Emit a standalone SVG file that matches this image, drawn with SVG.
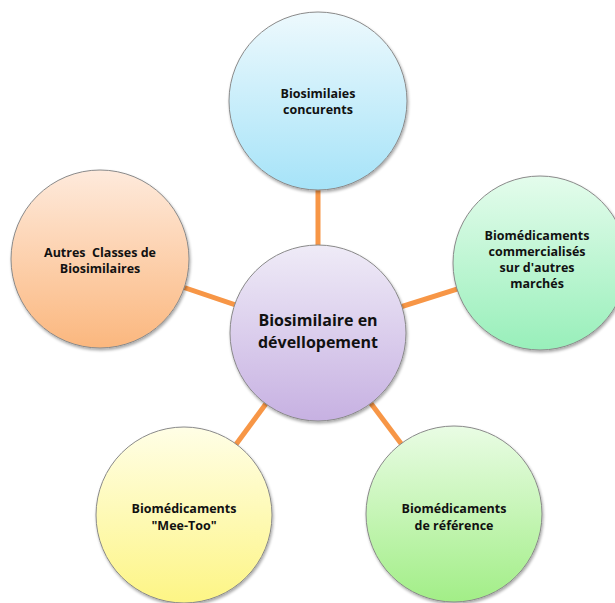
<svg xmlns="http://www.w3.org/2000/svg" width="615" height="603" viewBox="0 0 615 603">
<style>
.node{stroke:#8a8a8a;stroke-width:1;filter:url(#sh)}
.t{font-family:"Open Sans","Liberation Sans",sans-serif;font-weight:bold;font-size:12.5px;fill:#111;text-anchor:middle}
.tc{font-size:16px}
.conn line{stroke:#F79646;stroke-width:5}
</style>
<defs>
<filter id="sh" x="-20%" y="-20%" width="140%" height="140%">
<feGaussianBlur in="SourceAlpha" stdDeviation="1.5"/>
<feOffset dx="1" dy="2" result="b"/>
<feComponentTransfer><feFuncA type="linear" slope="0.35"/></feComponentTransfer>
<feMerge><feMergeNode/><feMergeNode in="SourceGraphic"/></feMerge>
</filter>
<linearGradient id="gTop" x1="0" y1="0" x2="0" y2="1"><stop offset="0" stop-color="#edf9fd"/><stop offset="1" stop-color="#a6e3f8"/></linearGradient>
<linearGradient id="gCen" x1="0" y1="0" x2="0" y2="1"><stop offset="0" stop-color="#efebf7"/><stop offset="1" stop-color="#c7b1e2"/></linearGradient>
<linearGradient id="gRight" x1="0" y1="0" x2="0" y2="1"><stop offset="0" stop-color="#e4fcec"/><stop offset="1" stop-color="#98efba"/></linearGradient>
<linearGradient id="gLeft" x1="0" y1="0" x2="0" y2="1"><stop offset="0" stop-color="#feeadc"/><stop offset="1" stop-color="#fbb77e"/></linearGradient>
<linearGradient id="gBL" x1="0" y1="0" x2="0" y2="1"><stop offset="0" stop-color="#fffee6"/><stop offset="1" stop-color="#fdf585"/></linearGradient>
<linearGradient id="gBR" x1="0" y1="0" x2="0" y2="1"><stop offset="0" stop-color="#e9fce4"/><stop offset="1" stop-color="#a2ee87"/></linearGradient>
</defs>
<rect width="615" height="603" fill="#fff"/>
<g id="connectors" class="conn">
<line x1="318" y1="333" x2="318" y2="101"/>
<line x1="318" y1="333" x2="100" y2="259"/>
<line x1="318" y1="333" x2="540" y2="263"/>
<line x1="318" y1="333" x2="184" y2="515"/>
<line x1="318" y1="333" x2="454" y2="514"/>
</g>
<g id="n-top">
<circle class="node" cx="318" cy="101" r="89" fill="url(#gTop)"/>
<text class="t" x="318" y="98">Biosimilaies</text>
<text class="t" x="318" y="114">concurents</text>
</g>
<g id="n-left">
<circle class="node" cx="100" cy="259" r="89" fill="url(#gLeft)"/>
<text class="t" x="100" y="257" xml:space="preserve">Autres  Classes de</text>
<text class="t" x="100" y="273">Biosimilaires</text>
</g>
<g id="n-right">
<circle class="node" cx="540" cy="263" r="87" fill="url(#gRight)"/>
<text class="t" x="537" y="240">Biomédicaments</text>
<text class="t" x="537" y="256">commercialisés</text>
<text class="t" x="537" y="272">sur d'autres</text>
<text class="t" x="537" y="288">marchés</text>
</g>
<g id="n-center">
<circle class="node" cx="318" cy="333" r="88" fill="url(#gCen)"/>
<text class="t tc" x="318" y="326">Biosimilaire en</text>
<text class="t tc" x="318" y="348">dévellopement</text>
</g>
<g id="n-bl">
<circle class="node" cx="184" cy="515" r="88" fill="url(#gBL)"/>
<text class="t" x="184" y="513">Biomédicaments</text>
<text class="t" x="184" y="530">"Mee-Too"</text>
</g>
<g id="n-br">
<circle class="node" cx="454" cy="514" r="88" fill="url(#gBR)"/>
<text class="t" x="454" y="513">Biomédicaments</text>
<text class="t" x="454" y="530">de référence</text>
</g>
</svg>
